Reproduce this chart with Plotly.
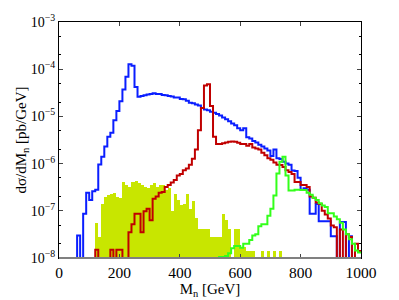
import plotly.graph_objects as go

# bin left edges: 0,10,...,990 (GeV), values in pb/GeV
bin_width = 10
bin_left = list(range(0, 1000, 10))

blue = [
    0, 0, 0, 0, 0, 0, 3.0e-8, 0, 8.7e-8, 2.4e-7,
    1.7e-7, 2.6e-7, 2.8e-7, 9.6e-7, 1.4e-6, 2.3e-6, 3.7e-6, 4.5e-6, 8.3e-6, 1.3e-5,
    2.1e-5, 3.7e-5, 6.9e-5, 1.28e-4, 1.18e-4, 4.2e-5, 2.6e-5, 2.7e-5, 2.8e-5, 2.9e-5,
    3.0e-5, 3.1e-5, 3.0e-5, 3.0e-5, 2.85e-5, 2.8e-5, 2.7e-5, 2.65e-5, 2.5e-5, 2.5e-5,
    2.35e-5, 2.3e-5, 2.15e-5, 1.95e-5, 1.9e-5, 1.78e-5, 1.7e-5, 1.5e-5, 1.4e-5, 1.35e-5,
    1.25e-5, 1.2e-5, 1.12e-5, 1.05e-5, 9.5e-6, 8.7e-6, 7.9e-6, 7.1e-6, 6.5e-6, 5.6e-6,
    5.1e-6, 5.6e-6, 3.6e-6, 3.4e-6, 3.0e-6, 2.8e-6, 2.5e-6, 2.3e-6, 2.1e-6, 1.9e-6,
    1.45e-6, 2.0e-6, 1.3e-6, 1.25e-6, 1.1e-6, 1.0e-6, 9.5e-7, 7.1e-7, 7.0e-7, 5.0e-7,
    2.8e-7, 3.0e-7, 2.8e-7, 8.7e-8, 8.7e-8, 1.4e-7, 6.0e-8, 6.0e-8, 6.0e-8, 6.0e-8,
    2.9e-8, 2.9e-8, 0, 5.8e-8, 5.8e-8, 0, 2.9e-8, 0, 0, 0,
]

red = [
    0, 0, 0, 0, 0, 0, 0, 0, 0, 0,
    0, 0, 1.5e-8, 0, 0, 0, 0, 1.5e-8, 0, 1.5e-8,
    1.5e-8, 0, 0, 3.5e-8, 5.2e-8, 8.7e-8, 8.7e-8, 3.5e-8, 9.8e-8, 1.1e-7,
    6.3e-8, 1.8e-7, 2.0e-7, 2.4e-7, 2.5e-7, 3.2e-7, 3.5e-7, 4.0e-7, 4.5e-7, 5.6e-7,
    6.0e-7, 7.2e-7, 7.9e-7, 9.5e-7, 1.26e-6, 2.0e-6, 5.1e-6, 1.5e-5, 4.5e-5, 4.8e-5,
    1.66e-5, 3.7e-6, 2.6e-6, 2.6e-6, 2.7e-6, 2.8e-6, 2.9e-6, 2.95e-6, 2.9e-6, 2.75e-6,
    2.6e-6, 2.6e-6, 2.4e-6, 2.6e-6, 2.2e-6, 2.1e-6, 2.0e-6, 1.7e-6, 1.5e-6, 1.3e-6,
    1.2e-6, 1.05e-6, 9.5e-7, 9.3e-7, 8.5e-7, 7.2e-7, 6.6e-7, 6.0e-7, 4.1e-7, 4.1e-7,
    3.5e-7, 3.5e-7, 3.2e-7, 2.0e-7, 1.9e-7, 1.5e-7, 1.4e-7, 1.0e-7, 8.3e-8, 6.9e-8,
    4.9e-8, 4.5e-8, 0, 4.0e-8, 0, 3.2e-8, 2.8e-8, 0, 2.0e-8, 1.4e-8,
]

green = [
    0, 0, 0, 0, 0, 0, 0, 0, 0, 0,
    0, 0, 0, 0, 0, 0, 0, 0, 0, 0,
    0, 0, 0, 0, 0, 0, 0, 0, 0, 0,
    0, 0, 0, 0, 0, 0, 0, 0, 0, 0,
    0, 0, 0, 0, 0, 0, 0, 0, 0, 0,
    0, 0, 0, 1.05e-8, 1.05e-8, 1.1e-8, 1.26e-8, 1.6e-8, 1.8e-8, 1.8e-8,
    1.65e-8, 2.0e-8, 2.0e-8, 2.4e-8, 3.0e-8, 3.2e-8, 4.7e-8, 5.2e-8, 5.2e-8, 7.9e-8,
    1.1e-7, 2.1e-7, 6.2e-7, 1.1e-6, 1.4e-6, 5.6e-7, 2.7e-7, 2.7e-7, 2.8e-7, 2.8e-7,
    2.75e-7, 2.75e-7, 2.4e-7, 2.2e-7, 1.9e-7, 1.7e-7, 1.45e-7, 1.3e-7, 1.2e-7, 8.9e-8,
    8.9e-8, 7.6e-8, 6.6e-8, 5.6e-8, 4.0e-8, 3.2e-8, 2.5e-8, 2.0e-8, 1.45e-8, 1.3e-8,
]

yellow = [
    0, 0, 0, 0, 0, 0, 0, 0, 0, 0,
    0, 0, 5.5e-8, 2.8e-8, 1.4e-7, 2.0e-7, 2.2e-7, 2.3e-7, 2.4e-7, 2.0e-7,
    1.9e-7, 4.0e-7, 3.5e-7, 3.2e-7, 4.0e-7, 4.2e-7, 3.8e-7, 3.5e-7, 3.2e-7, 3.0e-7,
    3.5e-7, 3.8e-7, 3.2e-7, 3.5e-7, 3.6e-7, 2.8e-7, 3.0e-7, 1.0e-7, 2.3e-7, 1.7e-7,
    1.3e-7, 1.4e-7, 2.3e-7, 1.1e-7, 1.6e-7, 6.9e-8, 4.2e-8, 4.2e-8, 4.2e-8, 4.2e-8,
    2.8e-8, 2.8e-8, 2.8e-8, 2.8e-8, 8.7e-8, 6.3e-8, 4.2e-8, 0, 4.2e-8, 4.2e-8,
    1.7e-8, 1.7e-8, 1.4e-8, 1.4e-8, 1.4e-8, 0, 0, 1.4e-8, 0, 1.4e-8,
    0, 1.4e-8, 0, 1.4e-8, 0, 0, 0, 0, 0, 0,
    0, 0, 0, 0, 0, 0, 0, 0, 0, 0,
    0, 0, 0, 0, 0, 0, 0, 0, 0, 0,
]

y_tick_vals = [1e-8, 1e-7, 1e-6, 1e-5, 1e-4, 1e-3]
y_tick_text = ["10<sup>−8</sup>", "10<sup>−7</sup>", "10<sup>−6</sup>",
               "10<sup>−5</sup>", "10<sup>−4</sup>", "10<sup>−3</sup>"]
x_tick_vals = [0, 200, 400, 600, 800, 1000]

FLOOR = 1e-12  # draw empty bins below the axis


def stairs(vals):
    xs = list(bin_left) + [bin_left[-1] + bin_width]
    ys = [v if v > 0 else FLOOR for v in vals]
    ys = ys + [ys[-1]]
    return xs, ys


fig = go.Figure()

fig.add_trace(go.Bar(
    x=[b + bin_width / 2 for b in bin_left],
    y=[v if v > 0 else None for v in yellow],
    width=bin_width, marker=dict(color="#c8e600", line=dict(width=0)),
    showlegend=False,
))

for vals, col in [(blue, "#0a1eff"), (red, "#c00000"), (green, "#33ff1a")]:
    xs, ys = stairs(vals)
    fig.add_trace(go.Scatter(x=xs, y=ys, mode="lines", line_shape="hv",
                             line=dict(color=col, width=2), showlegend=False))

font = dict(family="Liberation Serif", size=14, color="black")

fig.update_layout(
    width=399, height=300,
    margin=dict(l=59, r=38, t=22, b=42),
    paper_bgcolor="white", plot_bgcolor="white",
    bargap=0, font=font,
    xaxis=dict(range=[0, 1000], tickvals=x_tick_vals, ticks="inside", ticklen=4,
               automargin=False, tickfont=dict(family="Liberation Serif", size=15.5),
               showline=True, linecolor="black", linewidth=1, mirror="ticks",
               showgrid=False, zeroline=False,
               title=dict(text="M<sub>n</sub> [GeV]", standoff=0,
                          font=dict(family="Liberation Serif", size=15))),
    yaxis=dict(type="log", range=[-8, -3], tickvals=y_tick_vals, ticktext=y_tick_text,
               ticks="inside", ticklen=4, automargin=False,
               tickfont=dict(family="Liberation Serif", size=14),
               minor=dict(ticks="inside", ticklen=2, tickcolor="black", showgrid=False),
               showline=True, linecolor="black", linewidth=1, mirror="ticks",
               showgrid=False, zeroline=False,
               title=dict(text="dσ/dM<sub>n</sub> [pb/GeV]", standoff=0,
                          font=dict(family="Liberation Serif", size=15))),
)

fig.add_shape(type="line", xref="paper", yref="paper", x0=0, x1=1, y0=0, y1=0,
              line=dict(color="#808080", width=2))

fig.write_html("out.html", config={"displayModeBar": False},
               post_script="document.body.style.margin='0px';")
